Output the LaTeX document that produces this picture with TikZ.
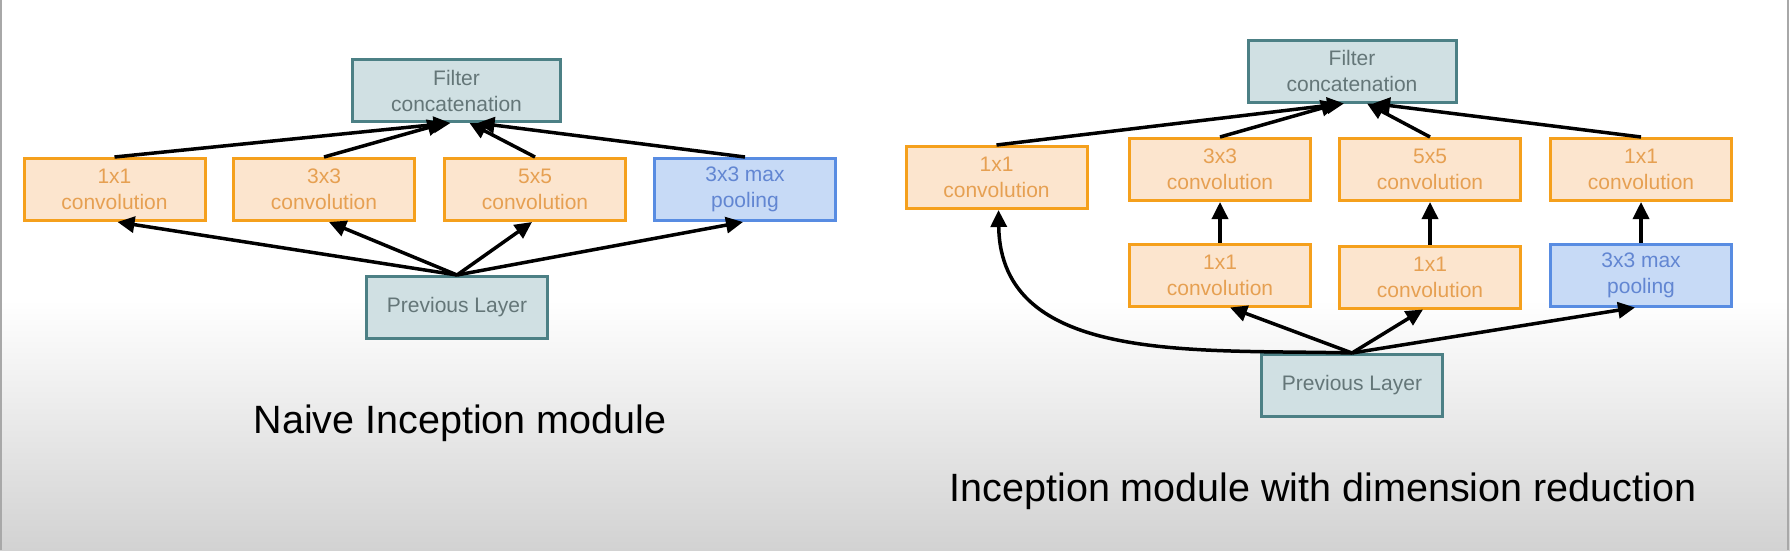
\documentclass[tikz,border=0pt]{standalone}
\usepackage{fontspec}
\setmainfont{Liberation Sans}
\usetikzlibrary{arrows.meta}
\definecolor{obord}{RGB}{245,160,28}
\definecolor{ofill}{RGB}{252,229,206}
\definecolor{otext}{RGB}{230,160,82}
\definecolor{bbord}{RGB}{88,140,226}
\definecolor{bfill}{RGB}{199,218,246}
\definecolor{btext}{RGB}{98,134,210}
\definecolor{tbord}{RGB}{76,128,133}
\definecolor{tfill}{RGB}{208,224,227}
\definecolor{ttext}{RGB}{100,118,120}
\definecolor{bgbot}{RGB}{210,210,210}
\definecolor{edgegray}{RGB}{168,168,168}
\begin{document}
\begin{tikzpicture}[x=1pt,y=-1pt,
  box/.style={draw, line width=3pt, minimum width=181pt, minimum height=62pt,
    inner sep=0pt, align=center, font=\fontsize{21}{26}\selectfont},
  obox/.style={box, draw=obord, fill=ofill, text=otext},
  pbox/.style={box, draw=bbord, fill=bfill, text=btext},
  tbox/.style={box, draw=tbord, fill=tfill, text=ttext},
  wide/.style={minimum width=208pt},
  title/.style={anchor=base, font=\fontsize{39.5}{46}\selectfont, text=black},
  arr/.style={line width=3.5pt, -{Triangle[length=17pt,width=16pt]}}]
\useasboundingbox (0,0) rectangle (1790,550);
\fill[white] (0,0) rectangle (1790,300);
\shade[top color=white, bottom color=bgbot] (0,300) rectangle (1790,550);
\draw[edgegray, line width=2pt] (1,0) -- (1,550);
\draw[edgegray, line width=2pt] (1788,0) -- (1788,550);

% ---- Naive module ----
\node[tbox, wide] (catL) at (456.5,90.5) {Filter\\concatenation};
\node[obox] (c1L) at (114.5,189.5) {1x1\\convolution};
\node[obox] (c3L) at (324,189.5) {3x3\\convolution};
\node[obox] (c5L) at (535,189.5) {5x5\\convolution};
\node[pbox] (plL) at (745,189.5) {3x3 max\\pooling};
\node[tbox] (prL) at (457,307.5) {Previous Layer};
\node[title] (tL) at (460,433) {Naive Inception module};

\draw[arr] (c1L.north) -- ([xshift=-6pt]catL.south);
\draw[arr] (c3L.north) -- ([xshift=-12pt]catL.south);
\draw[arr] (c5L.north) -- ([xshift=13pt]catL.south);
\draw[arr] (plL.north) -- ([xshift=21pt]catL.south);
\draw[arr] (prL.north) -- ([xshift=3pt]c1L.south);
\draw[arr] (prL.north) -- ([xshift=5pt]c3L.south);
\draw[arr] (prL.north) -- ([xshift=-3pt]c5L.south);
\draw[arr] (prL.north) -- ([xshift=-2pt]plL.south);

% ---- Module with dimension reduction ----
\node[tbox, wide] (catR) at (1352,71) {Filter\\concatenation};
\node[obox] (r1) at (996.5,177.5) {1x1\\convolution};
\node[obox] (r3) at (1220,169.5) {3x3\\convolution};
\node[obox] (r5) at (1430,169.5) {5x5\\convolution};
\node[obox] (r1b) at (1641,169.5) {1x1\\convolution};
\node[obox] (r3r) at (1220,275) {1x1\\convolution};
\node[obox] (r5r) at (1430,277) {1x1\\convolution};
\node[pbox] (rpl) at (1641,275) {3x3 max\\pooling};
\node[tbox] (prR) at (1352,385.5) {Previous Layer};
\node[title] (tR) at (1323,501) {Inception module with dimension reduction};

\draw[arr] (r1.north) -- ([xshift=-8pt]catR.south);
\draw[arr] (r3.north) -- ([xshift=-14pt]catR.south);
\draw[arr] (r5.north) -- ([xshift=15pt]catR.south);
\draw[arr] (r1b.north) -- ([xshift=21pt]catR.south);
\draw[arr] (r3r.north) -- (r3.south);
\draw[arr] (r5r.north) -- (r5.south);
\draw[arr] (rpl.north) -- (r1b.south);
\draw[arr] (prR.north) .. controls +(-155,-4) and +(2,155) .. ([xshift=2pt]r1.south);
\draw[arr] (prR.north) -- ([xshift=10pt]r3r.south);
\draw[arr] (prR.north) -- ([xshift=-7pt]r5r.south);
\draw[arr] (prR.north) -- ([xshift=-6pt]rpl.south);
\end{tikzpicture}
\end{document}
